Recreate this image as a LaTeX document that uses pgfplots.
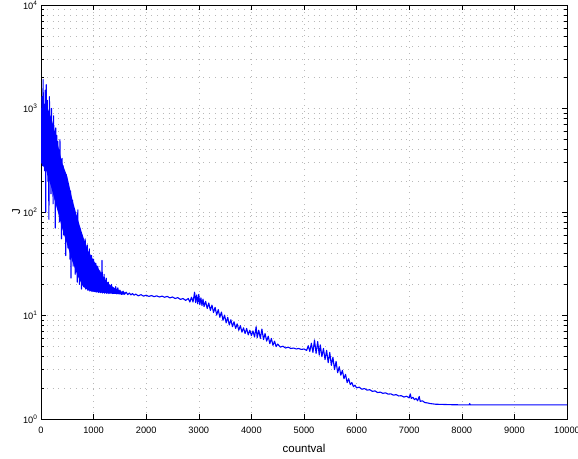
\documentclass[border=0pt]{standalone}
\usepackage{fontspec}
\setmainfont{Liberation Sans}
\usepackage{pgfplots}
\usepackage{pgfplotstable}
\pgfplotsset{compat=1.18}
% dense core of the noisy band (upper edge left to right, lower edge back)
\pgfplotstableread{
x y
0 1000
100 1100
200 800
300 500
400 300
500 220
600 130
700 85
800 58
900 42
1000 34
1100 28
1200 23
1300 20
1400 18.3
1500 17.3
1600 16.6
1600 15.9
1500 16.0
1400 16.2
1300 16.3
1200 16.5
1100 16.7
1000 17
900 17.5
800 19
700 24
600 33
500 48
400 70
300 110
200 170
100 250
0 300
}\Jcore
\pgfplotstableread{
x y
0 800
10 350
20 1300
30 280
40 1900
50 400
60 1100
70 250
80 1500
90 100
100 1700
110 300
120 1200
130 200
140 900
150 85
160 1300
170 250
180 800
190 150
200 1000
210 180
220 700
230 120
240 850
250 200
260 600
270 70
280 650
290 150
300 550
310 110
320 480
330 160
340 400
350 80
360 500
370 120
380 320
390 55
400 330
410 90
420 280
430 60
440 250
450 110
460 200
470 38
480 230
490 70
500 200
510 45
520 170
530 80
540 150
550 35
560 160
570 23
580 120
590 50
600 130
610 30
620 110
630 55
640 95
650 25
660 90
670 40
680 75
690 21
700 105
710 35
720 65
730 20
740 70
750 30
760 55
770 18
780 60
790 27
800 50
810 19
820 45
830 25
840 55
850 18
860 40
870 23
880 48
890 17.5
900 36
910 21
920 44
930 17.2
940 33
950 20
960 38
970 17
980 30
990 19.5
1000 35
1010 17
1020 28
1030 19
1040 32
1050 16.8
1060 26
1070 18.5
1080 30
1090 16.7
1100 24
1110 18
1120 27
1130 16.6
1140 22
1150 17.8
1160 34
1170 16.5
1180 21
1190 17.5
1200 25
1210 16.4
1220 20
1230 17.3
1240 23
1250 16.4
1260 19.5
1270 17
1280 21
1290 16.3
1300 19
1320 17
1340 20
1360 16.3
1380 18.5
1400 16.8
1420 19
1440 16.2
1460 18.5
1480 16.5
1500 17.6
1530 16
1560 17.2
1590 16.1
1620 16.8
1650 15.9
1680 16.5
1710 15.8
1740 16.3
1770 15.7
1800 16.1
1850 15.5
1900 15.9
1950 15.4
2000 15.7
2050 15.3
2100 15.6
2150 15.2
2200 15.5
2250 15.1
2300 15.4
2350 15.0
2400 15.3
2450 14.8
2500 15.1
2550 14.6
2600 14.9
2650 14.3
2700 14.6
2750 14.0
2800 14.6
2830 13.5
2860 15.0
2890 13.5
2920 16.8
2940 13.3
2960 15.8
2980 13.0
3000 16.0
3020 12.7
3040 14.8
3060 12.5
3080 14.4
3100 12.2
3130 13.7
3160 11.7
3190 13.2
3220 11.2
3250 12.6
3280 10.7
3310 12.0
3340 10.1
3370 11.4
3400 9.6
3430 10.8
3460 9.0
3490 10.1
3520 8.5
3550 9.6
3580 8.1
3610 9.1
3640 7.8
3670 8.7
3700 7.5
3730 8.3
3760 7.2
3790 8.0
3820 6.9
3850 7.6
3880 6.7
3910 7.5
3940 6.5
3970 7.2
4000 6.4
4030 7.1
4060 6.2
4090 7.8
4110 6.1
4140 7.2
4170 6.0
4200 7.4
4230 5.85
4260 6.7
4290 5.65
4320 6.3
4350 5.35
4380 6.0
4410 5.15
4440 5.65
4470 5.0
4500 5.3
4550 4.95
4600 5.05
4650 4.85
4700 4.95
4750 4.8
4800 4.85
4850 4.75
4900 4.8
4950 4.7
5000 4.75
5050 4.6
5080 5.1
5110 4.5
5140 5.4
5170 4.4
5200 5.8
5230 4.3
5260 5.6
5290 4.15
5310 5.2
5340 4.0
5370 4.8
5400 3.75
5430 4.6
5460 3.5
5490 4.4
5520 3.3
5550 3.95
5580 3.0
5610 3.6
5640 2.8
5670 3.2
5700 2.65
5730 2.95
5760 2.45
5790 2.7
5820 2.25
5850 2.45
5880 2.15
5910 2.25
5940 2.05
5970 2.12
6000 2.0
6050 2.03
6100 1.94
6150 1.97
6200 1.9
6250 1.92
6300 1.85
6350 1.87
6400 1.8
6450 1.82
6500 1.77
6550 1.79
6600 1.74
6650 1.75
6700 1.7
6750 1.72
6800 1.67
6850 1.68
6900 1.63
6950 1.66
7000 1.6
7020 1.75
7040 1.58
7070 1.62
7100 1.54
7130 1.58
7160 1.5
7190 1.65
7210 1.48
7250 1.5
7300 1.44
7350 1.43
7400 1.41
7450 1.4
7500 1.39
7600 1.385
7700 1.38
7800 1.375
8000 1.37
8140 1.37
8150 1.41
8160 1.37
9000 1.37
10000 1.37
}\Jdata
\begin{document}
\begin{tikzpicture}
\begin{axis}[
  scale only axis,
  width=526bp, height=414bp,
  xmin=0, xmax=10000,
  ymode=log, ymin=1, ymax=10000,
  xtick={0,1000,...,10000},
  xticklabels={0,1000,2000,3000,4000,5000,6000,7000,8000,9000,10000},
  scaled x ticks=false,
  ytick={1,10,100,1000,10000},
  yticklabels={10\textsuperscript{0},10\textsuperscript{1},10\textsuperscript{2},10\textsuperscript{3},10\textsuperscript{4}},
  tick align=inside,
  major tick length=5bp,
  minor tick length=3bp,
  xmajorgrids, ymajorgrids, yminorgrids,
  grid style={gray!55, line width=0.6bp, dash pattern=on 0.8bp off 5bp},
  minor grid style={gray!55, line width=0.6bp, dash pattern=on 0.8bp off 5bp},
  axis line style={line width=0.8bp, black},
  every tick/.style={black, line width=0.6bp},
  tick label style={font=\fontsize{9.3}{10}\selectfont},
  xticklabel style={yshift=-4bp},
  label style={font=\fontsize{11.5}{13}\selectfont},
  xlabel={countval},
  ylabel={J},
  xlabel style={yshift=-4bp},
  ylabel style={yshift=-4bp},
]
\addplot[fill=blue, draw=none] table[x=x, y=y] {\Jcore} -- cycle;
\addplot[blue, line width=1.1bp, line join=round] table[x=x, y=y] {\Jdata};
\end{axis}
\pgfresetboundingbox
\path[use as bounding box] ([shift={(-41bp,-39bp)}]current axis.south west) rectangle ([shift={(11bp,5bp)}]current axis.north east);
\end{tikzpicture}
\end{document}
